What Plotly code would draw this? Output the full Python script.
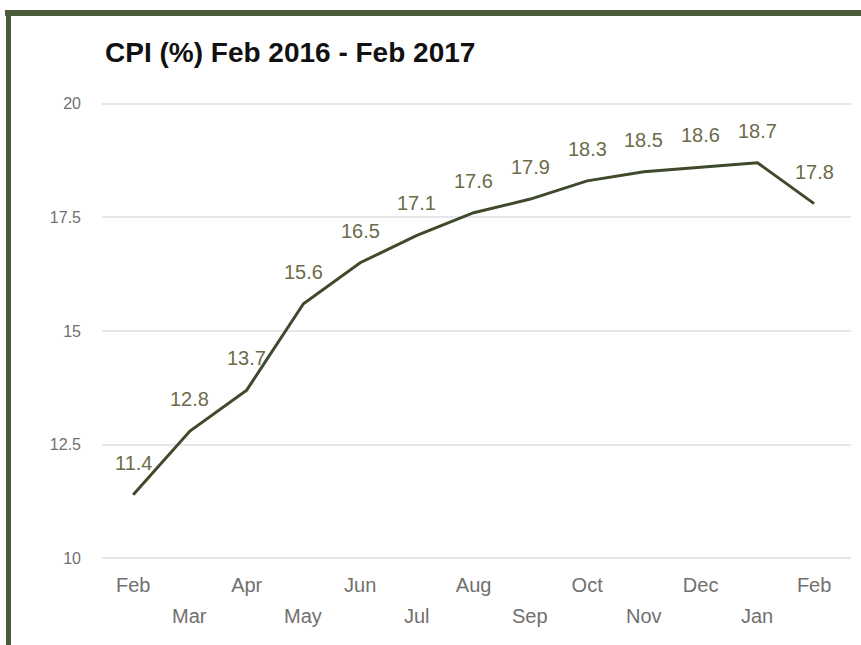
import plotly.graph_objects as go

months = ["Feb", "Mar", "Apr", "May", "Jun", "Jul", "Aug", "Sep", "Oct", "Nov", "Dec", "Jan", "Feb"]
cpi = [11.4, 12.8, 13.7, 15.6, 16.5, 17.1, 17.6, 17.9, 18.3, 18.5, 18.6, 18.7, 17.8]
value_labels = ["11.4", "12.8", "13.7", "15.6", "16.5", "17.1", "17.6", "17.9", "18.3", "18.5", "18.6", "18.7", "17.8"]
y_ticks = [10, 12.5, 15, 17.5, 20]
y_tick_text = ["10", "12.5", "15", "17.5", "20"]
title_text = "CPI (%) Feb 2016 - Feb 2017"

W, H = 861, 645
L, R, T, B = 102, 10, 99, 82
PW = W - L - R
PH = H - T - B

def px_x(px):
    return (px - L) / PW

def px_y(py):
    return (H - B - py) / PH

FRAME = "#4a5a3a"
LINE = "#3f4a2b"
LABEL = "#6c6b48"
TICK = "#707070"
FONT = "Liberation Sans, Arial"

fig = go.Figure()
fig.add_trace(go.Scatter(
    x=list(range(len(months))), y=cpi, mode="lines",
    line=dict(color=LINE, width=3), hoverinfo="skip", showlegend=False,
))

annotations = []
for i, (v, t) in enumerate(zip(cpi, value_labels)):
    annotations.append(dict(x=i, y=v, xref="x", yref="y", text=t, showarrow=False,
                            yshift=32, font=dict(size=20, color=LABEL, family=FONT)))
# second row of month labels (odd positions)
for i, m in enumerate(months):
    if i % 2 == 1:
        annotations.append(dict(x=i, y=0, xref="x", yref="paper", text=m, showarrow=False,
                                yanchor="middle", yshift=-53,
                                font=dict(size=20, color=TICK, family=FONT)))

annotations.append(dict(x=px_x(103), y=px_y(52), xref="paper", yref="paper", text="<b>" + title_text + "</b>",
                        showarrow=False, xanchor="left", yanchor="middle",
                        font=dict(size=28, color="#111111", family=FONT)))

shapes = [
    dict(type="rect", xref="paper", yref="paper", x0=px_x(5), x1=px_x(870), y0=px_y(16), y1=px_y(10),
         fillcolor=FRAME, line=dict(width=0), layer="above"),
    dict(type="rect", xref="paper", yref="paper", x0=px_x(6), x1=px_x(11), y0=px_y(660), y1=px_y(10),
         fillcolor=FRAME, line=dict(width=0), layer="above"),
]

fig.update_layout(
    width=W, height=H,
    margin=dict(l=L, r=R, t=T, b=B),
    paper_bgcolor="white", plot_bgcolor="white",
    annotations=annotations, shapes=shapes,
    showlegend=False,
    xaxis=dict(
        range=[-0.55, 12.65],
        tickmode="array",
        tickvals=[i for i in range(len(months)) if i % 2 == 0],
        ticktext=[months[i] for i in range(len(months)) if i % 2 == 0],
        showgrid=False, zeroline=False, showline=False, ticks="",
        tickfont=dict(size=20, color=TICK, family=FONT),
        ticklabelstandoff=8,
    ),
    yaxis=dict(
        range=[9.9, 20.1],
        tickmode="array", tickvals=y_ticks, ticktext=y_tick_text,
        showgrid=True, gridcolor="#e6e6e6", gridwidth=2,
        zeroline=False, showline=False, ticks="",
        tickfont=dict(size=16, color=TICK, family=FONT),
        ticklabelstandoff=20,
    ),
)

fig.write_html("out.html", config={"displayModeBar": False},
               post_script="document.body.style.margin='0px';document.body.style.overflow='hidden';")
